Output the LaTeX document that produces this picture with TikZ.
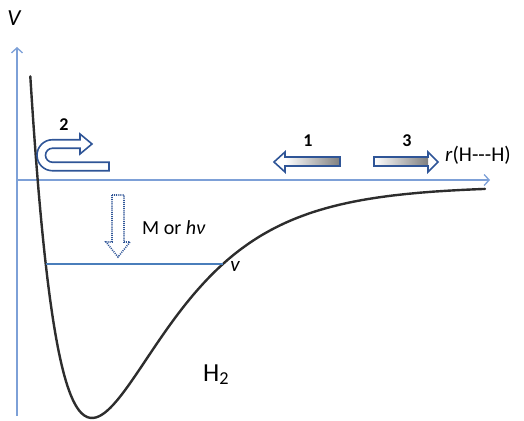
\documentclass[tikz,border=0pt]{standalone}
\usepackage{fontspec}
\setmainfont{Carlito}
\usepackage{tikz}
\usetikzlibrary{arrows.meta,positioning}

\definecolor{axisblue}{RGB}{125,160,215}
\definecolor{levelblue}{RGB}{74,126,187}
\definecolor{arrowblue}{RGB}{47,85,151}
\definecolor{curvegray}{RGB}{45,45,45}

\begin{document}
\begin{tikzpicture}[x=1pt, y=1pt,
    axis/.style={draw=axisblue, line width=1.3pt, -{Straight Barb[length=5pt, width=11pt]}},
    blockarrow/.style={draw=arrowblue, line width=1.6pt, line join=miter},
    shaft/.style={left color=white, right color=black!50},
    num/.style={font=\fontsize{18}{18}\selectfont\bfseries, inner sep=0pt},
    lbl/.style={font=\fontsize{20}{20}\selectfont, inner sep=0pt}
  ]
    \useasboundingbox (0,0) rectangle (524,420);
    % axes
    \coordinate (vbot) at (17,4);
    \coordinate (vtop) at (17,373);
    \coordinate (o) at (17,240);
    \coordinate (rend) at (490,240);
    \draw[axis] (vbot) -- (vtop);
    \draw[axis] (o) -- (rend);
    \node[lbl, font=\fontsize{23}{23}\selectfont\itshape] (V) at (14,402) {V};
    \node[lbl, anchor=west, font=\fontsize{21}{21}\selectfont] (rlab) at (445,265) {\textit{r}(H{-}{-}{-}H)};

    % Morse curve of H2
    \draw[curvegray, line width=2.4pt, line cap=round] plot[domain=30.3:485, samples=160, smooth]
      (\x, {2+232*(1-exp(-0.01288*(\x-92)))*(1-exp(-0.01288*(\x-92)))});
    \node[lbl, anchor=base west, font=\fontsize{26}{26}\selectfont] (h2) at (203,39) {H\textsubscript{2}};

    % vibrational level
    \coordinate (vl) at (45.7,156);
    \coordinate (vr) at (223,156);
    \draw[levelblue, line width=1.4pt] (vl) -- (vr);
    \node[lbl, font=\fontsize{21}{21}\selectfont\itshape] (vlab) at (235,154) {v};

    % stabilisation
    \draw[arrowblue, line width=1.6pt, dash pattern=on 1pt off 1.1pt]
      (112,225) -- (124,225) -- (124,178) -- (130,178) -- (118,163) -- (106,178) -- (112,178) -- cycle;
    \node[lbl, anchor=west] (mhv) at (142,192) {M or \textit{hν}};

    % 1: approach
    \shade[shaft] (285,254) rectangle (340,263);
    \draw[blockarrow] (340,254) -- (285,254) -- (285,248) -- (274,258) -- (285,268) -- (285,263) -- (340,263) -- cycle;
    \node[num] (n1) at (308,279) {1};

    % 2: rebound
    \draw[blockarrow] (109,249.25) -- (52.5,249.25) arc[start angle=270, end angle=90, radius=15.5]
      -- (80,280.25) -- (80,286) -- (92,276) -- (80,266) -- (80,271.75) -- (52.5,271.75)
      arc[start angle=90, end angle=270, radius=7] -- (109,257.75) -- cycle;
    \node[num] (n2) at (64,295) {2};

    % 3: dissociation
    \shade[shaft] (374,254) rectangle (428,263);
    \draw[blockarrow] (374,254) -- (428,254) -- (428,248) -- (438,258) -- (428,268) -- (428,263) -- (374,263) -- cycle;
    \node[num] (n3) at (407,279) {3};
  \end{tikzpicture}
\end{document}
